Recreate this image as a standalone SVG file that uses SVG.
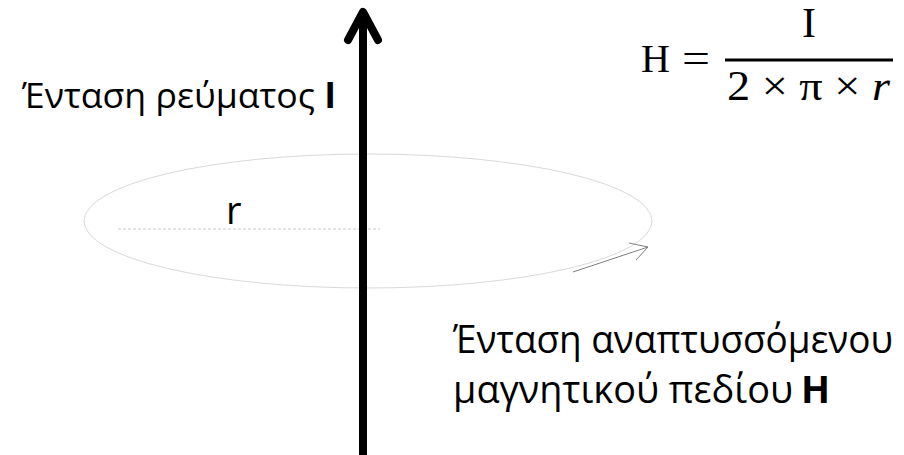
<svg xmlns="http://www.w3.org/2000/svg" width="904" height="455" viewBox="0 0 904 455">
<style>
.lbl{font-family:"Open Sans","Noto Sans",sans-serif;fill:#000}
.math{font-family:"Liberation Serif","DejaVu Serif",serif;fill:#000}
</style>
<rect width="904" height="455" fill="#fff"/>
<g id="loop">
<ellipse cx="368" cy="221" rx="284" ry="67" fill="none" stroke="#d9d9d9" stroke-width="1"/>
<line x1="118" y1="229" x2="380" y2="229" stroke="#c8c8c8" stroke-width="1" stroke-dasharray="3,2"/>
<text class="lbl" x="226" y="224" font-size="38">r</text>
</g>
<g id="connectors">
<polyline points="573,272 648,247" fill="none" stroke="#808080" stroke-width="1"/>
<polyline points="629,243 648,247 636,260" fill="none" stroke="#808080" stroke-width="1"/>
<line x1="363" y1="16" x2="363" y2="455" stroke="#000" stroke-width="8"/>
<polyline points="348,40 363,12 378,40" fill="none" stroke="#000" stroke-width="8" stroke-linejoin="round" stroke-linecap="round"/>
</g>
<g id="current-label">
<text class="lbl" x="22" y="108" font-size="35" textLength="314" lengthAdjust="spacingAndGlyphs">Ένταση ρεύματος <tspan font-weight="bold">I</tspan></text>
</g>
<g id="field-label">
<text class="lbl" x="453" y="353" font-size="38" textLength="440" lengthAdjust="spacingAndGlyphs">Ένταση αναπτυσσόμενου</text>
<text class="lbl" x="453" y="403" font-size="38" textLength="340" lengthAdjust="spacingAndGlyphs">μαγνητικού πεδίου</text>
<text class="lbl" x="801" y="403" font-size="38" font-weight="bold">H</text>
</g>
<g id="formula">
<text class="math" x="641" y="72" font-size="40">H</text>
<text class="math" x="682" y="72" font-size="42" textLength="28" lengthAdjust="spacingAndGlyphs">=</text>
<line x1="725" y1="60" x2="893" y2="60" stroke="#000" stroke-width="3"/>
<text class="math" x="809" y="37" font-size="42" text-anchor="middle">I</text>
<text class="math" x="727" y="100" font-size="42" textLength="163" lengthAdjust="spacingAndGlyphs">2 × π × <tspan font-style="italic">r</tspan></text>
</g>
</svg>
